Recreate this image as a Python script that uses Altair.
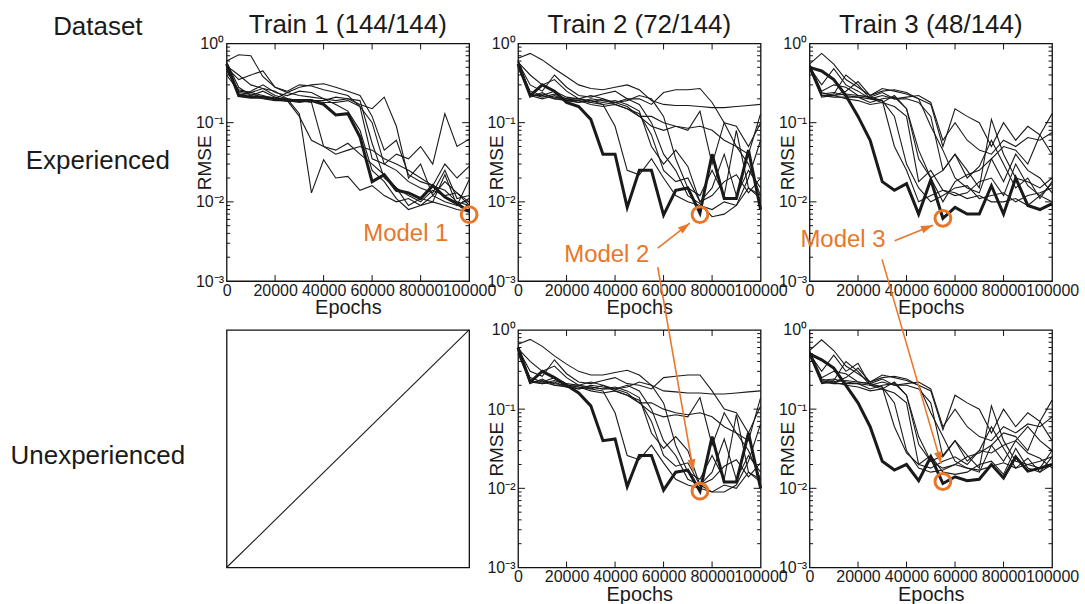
import altair as alt
import pandas as pd

# ---------------- data ----------------
EPOCHS = [0, 5000, 10000, 15000, 20000, 25000, 30000, 35000, 40000, 45000, 50000,
          55000, 60000, 65000, 70000, 75000, 80000, 85000, 90000, 95000, 100000]

COL_TITLES = ["Train 1 (144/144)", "Train 2 (72/144)", "Train 3 (48/144)"]
ROW_TITLES = ["Experienced", "Unexperienced"]
HEADER = "Dataset"

# Train 1 / Experienced
P1_BOLD = [0.55, 0.22, 0.21, 0.21, 0.20, 0.19, 0.19, 0.19, 0.17, 0.125, 0.13, 0.066, 0.018, 0.022, 0.014, 0.013, 0.011, 0.016, 0.0115, 0.0095, 0.0075]
P1_THIN = [
    [0.45, 0.26, 0.24, 0.27, 0.22, 0.20, 0.13, 0.013, 0.034, 0.020, 0.021, 0.014, 0.016, 0.012, 0.010, 0.011, 0.009, 0.012, 0.010, 0.009, 0.011],
    [0.55, 0.23, 0.22, 0.25, 0.21, 0.19, 0.12, 0.060, 0.050, 0.045, 0.055, 0.040, 0.030, 0.022, 0.015, 0.012, 0.010, 0.014, 0.012, 0.013, 0.009],
    [0.60, 0.72, 0.70, 0.38, 0.28, 0.25, 0.30, 0.29, 0.26, 0.24, 0.22, 0.16, 0.035, 0.030, 0.025, 0.018, 0.015, 0.013, 0.025, 0.011, 0.012],
    [0.50, 0.35, 0.40, 0.45, 0.28, 0.24, 0.28, 0.30, 0.31, 0.28, 0.25, 0.22, 0.12, 0.045, 0.060, 0.022, 0.018, 0.016, 0.014, 0.010, 0.009],
    [0.40, 0.25, 0.24, 0.22, 0.20, 0.24, 0.22, 0.21, 0.20, 0.19, 0.20, 0.17, 0.15, 0.21, 0.09, 0.020, 0.030, 0.012, 0.018, 0.013, 0.010],
    [0.55, 0.24, 0.23, 0.21, 0.20, 0.20, 0.19, 0.19, 0.18, 0.18, 0.19, 0.16, 0.10, 0.030, 0.040, 0.035, 0.050, 0.030, 0.130, 0.050, 0.062],
    [0.48, 0.22, 0.25, 0.30, 0.24, 0.22, 0.25, 0.24, 0.20, 0.17, 0.14, 0.08, 0.025, 0.018, 0.011, 0.008, 0.009, 0.010, 0.009, 0.008, 0.0075],
    [0.52, 0.40, 0.30, 0.27, 0.25, 0.20, 0.19, 0.18, 0.05, 0.040, 0.045, 0.050, 0.045, 0.035, 0.030, 0.025, 0.020, 0.016, 0.030, 0.020, 0.028],
    [0.58, 0.28, 0.22, 0.20, 0.19, 0.19, 0.18, 0.19, 0.19, 0.21, 0.20, 0.19, 0.055, 0.020, 0.015, 0.009, 0.011, 0.010, 0.022, 0.009, 0.019],
]

# Train 2 / Experienced
P2_BOLD = [0.55, 0.22, 0.30, 0.25, 0.18, 0.16, 0.11, 0.040, 0.040, 0.0085, 0.025, 0.025, 0.0068, 0.014, 0.015, 0.0072, 0.040, 0.011, 0.011, 0.045, 0.008]
P2_THIN = [
    [0.65, 0.75, 0.62, 0.48, 0.38, 0.30, 0.27, 0.26, 0.28, 0.30, 0.26, 0.19, 0.17, 0.165, 0.165, 0.16, 0.155, 0.155, 0.16, 0.165, 0.17],
    [0.58, 0.30, 0.25, 0.40, 0.28, 0.22, 0.21, 0.23, 0.25, 0.20, 0.20, 0.17, 0.24, 0.26, 0.26, 0.27, 0.18, 0.10, 0.09, 0.05, 0.10],
    [0.60, 0.22, 0.20, 0.22, 0.19, 0.18, 0.19, 0.17, 0.18, 0.16, 0.12, 0.09, 0.08, 0.09, 0.08, 0.14, 0.03, 0.10, 0.05, 0.03, 0.012],
    [0.55, 0.21, 0.24, 0.20, 0.19, 0.19, 0.18, 0.17, 0.09, 0.025, 0.022, 0.035, 0.020, 0.012, 0.010, 0.009, 0.008, 0.010, 0.009, 0.015, 0.011],
    [0.62, 0.23, 0.21, 0.23, 0.20, 0.20, 0.19, 0.18, 0.19, 0.17, 0.14, 0.05, 0.030, 0.045, 0.028, 0.010, 0.012, 0.018, 0.022, 0.013, 0.020],
    [0.50, 0.22, 0.22, 0.25, 0.21, 0.20, 0.22, 0.20, 0.18, 0.20, 0.17, 0.10, 0.040, 0.025, 0.012, 0.0095, 0.0065, 0.0070, 0.0090, 0.020, 0.060],
    [0.58, 0.40, 0.30, 0.35, 0.25, 0.20, 0.18, 0.20, 0.17, 0.15, 0.12, 0.12, 0.10, 0.09, 0.085, 0.09, 0.08, 0.06, 0.05, 0.04, 0.13],
    [0.55, 0.25, 0.22, 0.20, 0.20, 0.18, 0.20, 0.19, 0.18, 0.19, 0.22, 0.20, 0.12, 0.035, 0.015, 0.012, 0.025, 0.012, 0.08, 0.015, 0.012],
    [0.60, 0.22, 0.23, 0.21, 0.20, 0.19, 0.17, 0.16, 0.17, 0.15, 0.13, 0.07, 0.025, 0.018, 0.020, 0.010, 0.015, 0.040, 0.012, 0.025, 0.015],
]

# Train 3 / Experienced
P3_BOLD = [0.50, 0.45, 0.35, 0.22, 0.12, 0.060, 0.018, 0.014, 0.017, 0.0070, 0.019, 0.0062, 0.0085, 0.0070, 0.0070, 0.016, 0.0070, 0.020, 0.0090, 0.0080, 0.0095]
P3_THIN = [
    [0.55, 0.75, 0.55, 0.35, 0.28, 0.22, 0.27, 0.25, 0.23, 0.20, 0.17, 0.050, 0.15, 0.12, 0.10, 0.05, 0.10, 0.06, 0.09, 0.07, 0.13],
    [0.50, 0.30, 0.48, 0.30, 0.25, 0.20, 0.19, 0.05, 0.025, 0.010, 0.012, 0.014, 0.013, 0.011, 0.012, 0.010, 0.010, 0.011, 0.009, 0.012, 0.010],
    [0.52, 0.22, 0.23, 0.40, 0.30, 0.20, 0.18, 0.22, 0.15, 0.035, 0.020, 0.025, 0.040, 0.020, 0.028, 0.060, 0.030, 0.015, 0.020, 0.011, 0.018],
    [0.48, 0.21, 0.22, 0.25, 0.33, 0.22, 0.25, 0.26, 0.24, 0.20, 0.09, 0.045, 0.020, 0.015, 0.013, 0.035, 0.050, 0.045, 0.030, 0.070, 0.040],
    [0.53, 0.23, 0.24, 0.22, 0.21, 0.20, 0.22, 0.20, 0.21, 0.22, 0.18, 0.06, 0.10, 0.06, 0.045, 0.040, 0.060, 0.050, 0.065, 0.060, 0.075],
    [0.50, 0.22, 0.21, 0.21, 0.21, 0.18, 0.20, 0.21, 0.15, 0.045, 0.020, 0.010, 0.018, 0.022, 0.025, 0.035, 0.018, 0.040, 0.025, 0.020, 0.013],
    [0.55, 0.25, 0.30, 0.28, 0.22, 0.21, 0.19, 0.12, 0.030, 0.015, 0.010, 0.012, 0.015, 0.016, 0.011, 0.012, 0.013, 0.010, 0.012, 0.013, 0.015],
    [0.52, 0.24, 0.22, 0.23, 0.22, 0.21, 0.24, 0.20, 0.20, 0.18, 0.12, 0.025, 0.040, 0.025, 0.015, 0.110, 0.040, 0.020, 0.018, 0.015, 0.020],
    [0.50, 0.22, 0.22, 0.20, 0.19, 0.17, 0.18, 0.16, 0.12, 0.018, 0.025, 0.014, 0.012, 0.013, 0.018, 0.020, 0.012, 0.030, 0.016, 0.012, 0.017],
]

# Train 2 / Unexperienced
P4_BOLD = [0.60, 0.22, 0.30, 0.25, 0.20, 0.16, 0.11, 0.040, 0.042, 0.0105, 0.026, 0.026, 0.0095, 0.016, 0.017, 0.0092, 0.045, 0.012, 0.012, 0.050, 0.010]
P4_THIN = [
    [0.66, 0.76, 0.62, 0.47, 0.37, 0.30, 0.27, 0.27, 0.29, 0.31, 0.27, 0.20, 0.17, 0.165, 0.16, 0.16, 0.155, 0.155, 0.16, 0.165, 0.17],
    [0.58, 0.30, 0.26, 0.42, 0.28, 0.22, 0.21, 0.23, 0.25, 0.21, 0.20, 0.18, 0.25, 0.26, 0.27, 0.27, 0.17, 0.10, 0.09, 0.05, 0.11],
    [0.60, 0.22, 0.21, 0.22, 0.19, 0.18, 0.19, 0.18, 0.18, 0.16, 0.12, 0.09, 0.08, 0.085, 0.08, 0.14, 0.035, 0.09, 0.05, 0.03, 0.013],
    [0.55, 0.21, 0.24, 0.20, 0.19, 0.19, 0.18, 0.17, 0.09, 0.026, 0.023, 0.035, 0.021, 0.013, 0.011, 0.010, 0.009, 0.011, 0.010, 0.016, 0.012],
    [0.62, 0.23, 0.21, 0.23, 0.20, 0.20, 0.19, 0.18, 0.19, 0.17, 0.14, 0.05, 0.032, 0.045, 0.030, 0.011, 0.013, 0.019, 0.023, 0.014, 0.021],
    [0.50, 0.22, 0.22, 0.25, 0.21, 0.20, 0.22, 0.20, 0.18, 0.20, 0.17, 0.10, 0.040, 0.026, 0.013, 0.011, 0.0090, 0.0090, 0.011, 0.022, 0.065],
    [0.58, 0.40, 0.30, 0.35, 0.25, 0.20, 0.18, 0.20, 0.17, 0.15, 0.12, 0.12, 0.10, 0.09, 0.085, 0.09, 0.08, 0.06, 0.05, 0.04, 0.14],
    [0.55, 0.25, 0.22, 0.20, 0.20, 0.18, 0.20, 0.19, 0.18, 0.19, 0.22, 0.20, 0.12, 0.035, 0.016, 0.013, 0.026, 0.013, 0.085, 0.016, 0.013],
    [0.60, 0.22, 0.23, 0.21, 0.20, 0.19, 0.17, 0.16, 0.17, 0.15, 0.13, 0.07, 0.026, 0.019, 0.021, 0.011, 0.016, 0.042, 0.013, 0.026, 0.016],
]

# Train 3 / Unexperienced
P5_BOLD = [0.50, 0.42, 0.33, 0.20, 0.12, 0.060, 0.022, 0.017, 0.020, 0.0125, 0.025, 0.0115, 0.014, 0.0125, 0.013, 0.020, 0.0135, 0.025, 0.0165, 0.018, 0.020]
P5_THIN = [
    [0.55, 0.75, 0.55, 0.35, 0.28, 0.22, 0.27, 0.25, 0.23, 0.20, 0.17, 0.055, 0.15, 0.12, 0.10, 0.05, 0.10, 0.06, 0.09, 0.07, 0.13],
    [0.50, 0.30, 0.48, 0.30, 0.38, 0.20, 0.19, 0.06, 0.028, 0.020, 0.018, 0.022, 0.025, 0.020, 0.030, 0.028, 0.035, 0.040, 0.060, 0.040, 0.030],
    [0.52, 0.22, 0.23, 0.40, 0.30, 0.20, 0.18, 0.22, 0.15, 0.036, 0.022, 0.026, 0.040, 0.022, 0.030, 0.060, 0.032, 0.018, 0.024, 0.016, 0.025],
    [0.48, 0.21, 0.22, 0.25, 0.33, 0.22, 0.25, 0.26, 0.24, 0.20, 0.09, 0.045, 0.022, 0.018, 0.016, 0.035, 0.050, 0.045, 0.030, 0.070, 0.040],
    [0.53, 0.23, 0.24, 0.22, 0.21, 0.20, 0.22, 0.20, 0.21, 0.22, 0.18, 0.06, 0.10, 0.06, 0.045, 0.040, 0.060, 0.050, 0.065, 0.060, 0.080],
    [0.50, 0.22, 0.21, 0.21, 0.21, 0.18, 0.20, 0.21, 0.15, 0.045, 0.022, 0.018, 0.020, 0.025, 0.028, 0.035, 0.022, 0.040, 0.028, 0.024, 0.018],
    [0.55, 0.25, 0.30, 0.28, 0.22, 0.21, 0.19, 0.12, 0.030, 0.018, 0.016, 0.017, 0.020, 0.018, 0.017, 0.019, 0.021, 0.018, 0.020, 0.022, 0.025],
    [0.52, 0.24, 0.22, 0.23, 0.22, 0.21, 0.24, 0.20, 0.20, 0.18, 0.12, 0.025, 0.040, 0.026, 0.018, 0.110, 0.040, 0.022, 0.020, 0.018, 0.030],
    [0.50, 0.22, 0.22, 0.20, 0.19, 0.17, 0.18, 0.16, 0.12, 0.020, 0.026, 0.016, 0.015, 0.016, 0.020, 0.022, 0.015, 0.032, 0.018, 0.016, 0.020],
]

# annotations (data coordinates of the panel they are drawn in)
CIRCLE_X = {"p1": 100000, "p2": 75000, "p3": 55000, "p4": 75000, "p5": 55000}
CIRCLE_Y = {"p1": 0.0069, "p2": 0.0069, "p3": 0.0062, "p4": 0.0092, "p5": 0.0122}
LABEL_TEXT = {"p1": "Model 1", "p2": "Model 2", "p3": "Model 3"}
LABEL_X = {"p1": 73900, "p2": 36600, "p3": 13800}
LABEL_Y = {"p1": 0.0039, "p2": 0.00213, "p3": 0.00329}
ARROW_X1 = {"p2": 57600, "p3": 35100, "p4": 57600, "p5": 29900}
ARROW_Y1 = {"p2": 0.0026, "p3": 0.00322, "p4": 6.22, "p5": 7.78}
ARROW_X2 = {"p2": 70800, "p3": 50900, "p4": 72300, "p5": 54300}
ARROW_Y2 = {"p2": 0.00538, "p3": 0.00508, "p4": 0.0164, "p5": 0.0205}
ARROW_ANGLE = {"p2": 52, "p3": 68, "p4": 170, "p5": 164}

DIAG_U = [0, 1]
DIAG_V = [0, 1]

X_TICKS = [0, 20000, 40000, 60000, 80000, 100000]
Y_MAJOR = [0.001, 0.01, 0.1, 1]
Y_MINOR = [m * 10.0 ** e for e in (-3, -2, -1) for m in range(2, 10)]

# ---------------- style ----------------
FONT = "Liberation Sans"
W, H = 243, 238
GAP = 49
LW = 160
INK = "#1a1a1a"
FRAME = "#111111"
ORANGE = "#E8772A"
ARROW_PATH = "M0,0L1.3,4L-1.3,4Z"

XS = alt.Scale(domain=[0, 100000], nice=False)
YS = alt.Scale(type="log", domain=[0.001, 1], nice=False)

Y_LABELS = ("datum.value >= 0.5 ? '10\u2070' : datum.value >= 0.05 ? '10\u207b\u00b9' : "
            "datum.value >= 0.005 ? '10\u207b\u00b2' : '10\u207b\u00b3'")

XAX = alt.Axis(values=X_TICKS, format="d", title="Epochs", labelFlush=False,
               labelOverlap=False, domain=False, ticks=False, tickSize=0, grid=False,
               labelFontSize=16, labelPadding=1, titleFontSize=20, titlePadding=0,
               titleFontWeight="normal", labelFont=FONT, titleFont=FONT,
               labelColor=INK, titleColor=INK)
YAX = alt.Axis(values=Y_MAJOR, labelExpr=Y_LABELS, title="RMSE", domain=False,
               ticks=False, tickSize=0, grid=False, labelFontSize=16, labelPadding=3,
               titleFontSize=19, titleX=-16, titleY=H / 2, titleBaseline="alphabetic",
               labelOverlap=False, titleFontWeight="normal", labelFont=FONT,
               titleFont=FONT, labelColor=INK, titleColor=INK)

FRAME_VIEW = alt.ViewBackground(stroke=FRAME, strokeWidth=1.3)


def X(field):
    return alt.X(field, scale=XS, axis=XAX)


def Y(field):
    return alt.Y(field, scale=YS, axis=YAX)


def title_params(text, offset):
    return alt.TitleParams(text, fontSize=26, font=FONT, fontWeight="normal", color=INK,
                           frame="group", anchor="middle", baseline="alphabetic",
                           offset=offset)


def curves_panel(key, thin, bold, title=None):
    rows = []
    for i, run in enumerate(thin):
        for e, v in zip(EPOCHS, run):
            rows.append({"epoch": e, "rmse": v, "run": i})
    thin_df = pd.DataFrame(rows)
    bold_df = pd.DataFrame({"epoch": EPOCHS, "rmse": bold})

    thin_layer = alt.Chart(thin_df).mark_line(color=INK, strokeWidth=1.1).encode(
        x=X("epoch:Q"), y=Y("rmse:Q"), detail="run:N")
    bold_layer = alt.Chart(bold_df).mark_line(color=INK, strokeWidth=3).encode(
        x=X("epoch:Q"), y=Y("rmse:Q"))

    ymaj = pd.DataFrame({"v": [0.01, 0.1]})
    ymin = pd.DataFrame({"v": Y_MINOR})
    xt = pd.DataFrame({"t": X_TICKS[1:-1]})
    tick_layers = [
        alt.Chart(ymaj).mark_rule(color=FRAME, strokeWidth=1).encode(y=Y("v:Q"), x=alt.value(0), x2=alt.value(7)),
        alt.Chart(ymaj).mark_rule(color=FRAME, strokeWidth=1).encode(y=Y("v:Q"), x=alt.value(W - 7), x2=alt.value(W)),
        alt.Chart(ymin).mark_rule(color=FRAME, strokeWidth=1).encode(y=Y("v:Q"), x=alt.value(0), x2=alt.value(3.5)),
        alt.Chart(ymin).mark_rule(color=FRAME, strokeWidth=1).encode(y=Y("v:Q"), x=alt.value(W - 3.5), x2=alt.value(W)),
        alt.Chart(xt).mark_rule(color=FRAME, strokeWidth=1).encode(x=X("t:Q"), y=alt.value(0), y2=alt.value(6)),
        alt.Chart(xt).mark_rule(color=FRAME, strokeWidth=1).encode(x=X("t:Q"), y=alt.value(H - 6), y2=alt.value(H)),
    ]

    ann = []
    if key in ARROW_X1:
        adf = pd.DataFrame({"x1": [ARROW_X1[key]], "y1": [ARROW_Y1[key]],
                            "x2": [ARROW_X2[key]], "y2": [ARROW_Y2[key]],
                            "ang": [ARROW_ANGLE[key]]})
        ann.append(alt.Chart(adf).mark_rule(color=ORANGE, strokeWidth=1.6).encode(
            x=X("x1:Q"), y=Y("y1:Q"), x2="x2:Q", y2="y2:Q"))
        ann.append(alt.Chart(adf).mark_point(shape=ARROW_PATH, filled=True, color=ORANGE,
                                             opacity=1, size=36).encode(
            x=X("x2:Q"), y=Y("y2:Q"), angle=alt.Angle("ang:Q", scale=None)))
    cdf = pd.DataFrame({"cx": [CIRCLE_X[key]], "cy": [CIRCLE_Y[key]]})
    ann.append(alt.Chart(cdf).mark_point(shape="circle", filled=False, color=ORANGE,
                                         strokeWidth=3, size=250, opacity=1).encode(
        x=X("cx:Q"), y=Y("cy:Q")))
    if key in LABEL_TEXT:
        tdf = pd.DataFrame({"lx": [LABEL_X[key]], "ly": [LABEL_Y[key]], "s": [LABEL_TEXT[key]]})
        ann.append(alt.Chart(tdf).mark_text(color=ORANGE, font=FONT, fontSize=24,
                                            align="center", baseline="middle").encode(
            x=X("lx:Q"), y=Y("ly:Q"), text="s:N"))

    props = dict(width=W, height=H, view=FRAME_VIEW)
    if title:
        props["title"] = title_params(title, -23)
    return alt.layer(thin_layer, bold_layer, *tick_layers, *ann).properties(**props)


def label_panel(text, dy, title=None):
    df = pd.DataFrame({"t": [text]})
    props = dict(width=LW, height=H, view=alt.ViewBackground(stroke="transparent"))
    if title:
        props["title"] = title_params(title, -18)
    return alt.Chart(df).mark_text(font=FONT, fontSize=26, color=INK, baseline="middle",
                                   align="center").encode(
        text="t:N", x=alt.value(LW / 2), y=alt.value(H / 2 + dy)).properties(**props)


diag = alt.Chart(pd.DataFrame({"u": DIAG_U, "v": DIAG_V})).mark_line(
    color=INK, strokeWidth=1.1).encode(
    x=alt.X("u:Q", axis=None, scale=alt.Scale(domain=[0, 1], nice=False)),
    y=alt.Y("v:Q", axis=None, scale=alt.Scale(domain=[0, 1], nice=False)),
).properties(width=W, height=H, view=FRAME_VIEW)

chart = alt.concat(
    label_panel(ROW_TITLES[0], -1, HEADER),
    curves_panel("p1", P1_THIN, P1_BOLD, COL_TITLES[0]),
    curves_panel("p2", P2_THIN, P2_BOLD, COL_TITLES[1]),
    curves_panel("p3", P3_THIN, P3_BOLD, COL_TITLES[2]),
    label_panel(ROW_TITLES[1], 7),
    diag,
    curves_panel("p4", P4_THIN, P4_BOLD),
    curves_panel("p5", P5_THIN, P5_BOLD),
    columns=4, spacing=GAP, bounds="flush",
).properties(
    padding={"left": 9, "top": 10, "right": 5, "bottom": 2},
    background="white",
).configure_view(stroke=FRAME, strokeWidth=1.3)

chart.save("out.html", embed_options={"renderer": "svg", "actions": False})
